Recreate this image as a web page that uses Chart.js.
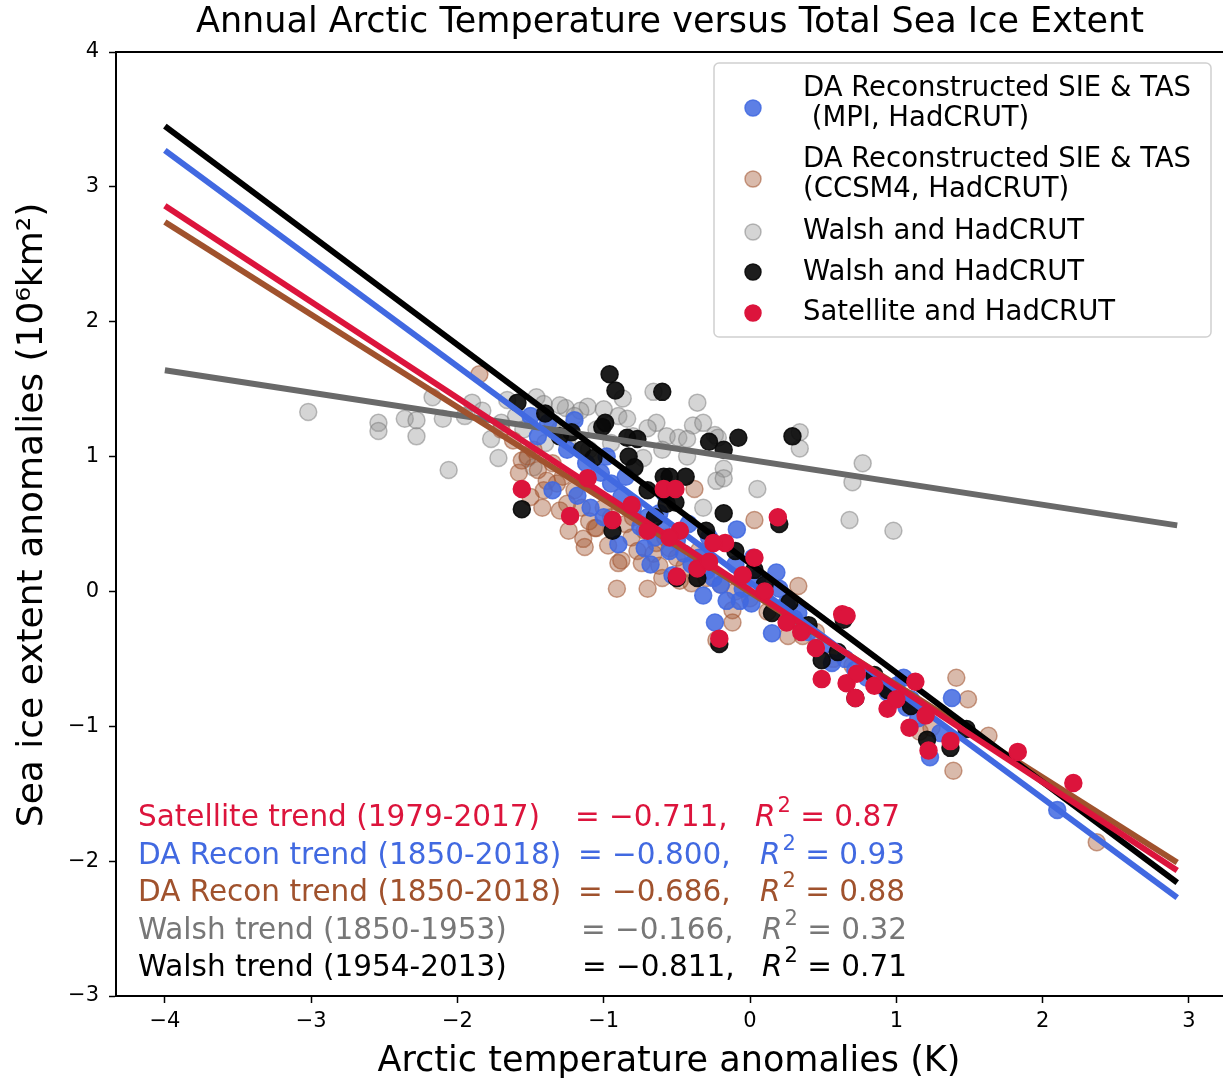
<!DOCTYPE html>
<html>
<head>
<meta charset="utf-8">
<title>Annual Arctic Temperature versus Total Sea Ice Extent</title>
<script src="https://cdn.jsdelivr.net/npm/chart.js@4.4.0/dist/chart.umd.min.js"></script>
<style>
  html, body { margin: 0; padding: 0; background: #fff; }
  #wrap { width: 1223px; height: 1082px; }
</style>
</head>
<body>
<div id="wrap"><canvas id="iceChart" width="1223" height="1082"></canvas></div>
<script>
// ---- data: [temperature anomaly (K), SIE anomaly (10^6 km^2)] ----
const mpiPoints = [
  [-1.20,1.27],[-1.18,0.71],[-1.35,0.75],[-1.09,0.62],[-1.25,1.05],[-1.12,0.95],[-1.02,0.88],[-0.95,0.80],
  [-0.88,0.70],[-0.80,0.62],[-0.75,0.48],[-0.70,0.55],[-0.65,0.40],[-0.60,0.45],[-0.55,0.30],[-0.50,0.38],
  [-0.45,0.28],[-0.40,0.20],[-0.35,0.25],[-0.30,0.15],[-0.25,0.10],[-0.20,0.05],[-0.09,0.46],[0.18,0.14],
  [-0.32,-0.03],[-0.24,-0.23],[0.15,-0.31],[-0.16,-0.07],[-0.07,-0.07],[0.01,-0.09],[0.25,-0.09],[0.33,-0.16],
  [0.80,-0.64],[0.94,-0.75],[0.56,-0.53],[1.38,-0.79],[1.07,-0.86],[1.15,-0.94],[1.23,-1.23],[2.10,-1.62],
  [1.05,-0.64],[-0.10,0.20],[0.05,0.10],[0.10,0.00],[-0.05,0.02],[0.40,-0.30],[0.50,-0.40],[0.65,-0.50],
  [0.72,-0.58],[1.00,-0.70],[1.10,-0.80],[1.20,-0.90],[1.30,-1.05],[-1.45,1.15],[-1.38,1.25],[-1.50,1.30],
  [-0.98,1.00],[-0.85,0.85],[-0.62,0.58],[-0.58,0.72],[-0.42,0.50],[-0.28,0.40],[0.02,0.25],[0.20,0.02],
  [0.30,-0.20],[-1.00,0.55],[-0.90,0.35],[-0.72,0.32],[-0.53,0.12],[-0.68,0.20]
];
const ccsmPoints = [
  [-1.85,1.61],[-1.50,0.70],[-1.30,0.60],[-1.48,1.05],[-1.06,0.47],[-1.14,0.39],[-1.13,0.33],[-1.39,0.82],
  [-1.32,0.80],[-1.41,0.75],[-1.56,0.97],[-1.62,1.12],[-1.25,0.65],[-1.05,0.47],[-0.97,0.34],[-0.90,0.21],
  [-0.88,0.23],[-0.91,0.02],[-0.70,0.02],[-0.74,0.21],[-0.62,0.19],[-0.38,0.76],[0.03,0.53],[0.33,0.04],
  [-0.81,0.40],[-0.77,0.30],[-0.40,0.06],[-0.55,0.32],[-0.64,0.36],[-0.12,-0.14],[-0.12,-0.23],[-0.23,-0.36],
  [0.26,-0.33],[0.36,-0.33],[0.57,-0.50],[1.41,-0.64],[1.49,-0.80],[1.63,-1.07],[1.39,-1.33],[1.24,-1.01],
  [1.16,-1.04],[2.37,-1.86],[-1.70,1.20],[-1.58,0.88],[-1.45,0.90],[-1.35,0.95],[-1.28,0.85],[-1.20,0.75],
  [-1.15,0.62],[-1.00,0.62],[-0.95,0.55],[-0.85,0.50],[-0.80,0.55],[-0.72,0.45],[-0.66,0.28],[-0.58,0.40],
  [-0.50,0.25],[-0.45,0.18],[-0.35,0.30],[-0.30,0.10],[-0.20,0.05],[-0.10,0.00],[0.00,-0.05],[0.12,-0.15],
  [0.45,-0.30],[0.70,-0.55],[0.90,-0.70],[1.05,-0.78],[-1.52,1.00],[-1.42,0.62],[-1.24,0.45],[-1.10,0.52],
  [-0.60,0.10],[-0.48,0.08]
];
const walshEarlyPoints = [
  [-3.02,1.33],[-2.54,1.25],[-2.54,1.19],[-2.36,1.28],[-2.28,1.27],[-2.28,1.15],[-2.10,1.28],[-2.06,0.90],
  [-2.17,1.44],[-1.90,1.40],[-1.83,1.34],[-1.77,1.13],[-1.72,0.99],[-1.66,1.42],[-1.46,1.44],[-1.41,1.39],
  [-1.26,1.36],[-1.11,1.37],[-1.16,1.34],[-1.52,0.99],[-1.48,0.92],[-0.87,1.43],[-0.66,1.48],[-0.36,1.40],
  [-0.90,1.30],[-0.84,1.28],[-0.64,1.25],[-0.70,1.21],[-0.39,1.23],[-0.32,1.25],[-0.57,1.15],[-0.49,1.14],
  [-0.43,1.13],[-0.24,1.16],[-0.22,1.14],[-0.73,0.99],[-0.60,1.05],[-0.43,1.00],[-0.18,0.91],[-0.23,0.82],
  [-0.18,0.84],[0.05,0.76],[-0.32,0.62],[0.34,1.18],[0.34,1.06],[0.77,0.95],[0.70,0.81],[0.68,0.53],
  [0.98,0.45],[-1.60,1.30],[-1.35,1.25],[-1.30,1.20],[-1.20,1.30],[-1.05,1.20],[-1.00,1.35],[-0.95,1.10],
  [-1.40,1.10],[-1.25,1.12],[-1.55,1.20],[-1.70,1.25],[-1.95,1.30],[-1.30,1.38],[-0.80,1.15],[-1.10,1.05]
];
const walshLatePoints = [
  [-0.96,1.61],[-0.92,1.49],[-0.60,1.48],[-0.99,1.25],[-1.01,1.22],[-0.84,1.14],[-0.77,1.13],[-0.28,1.11],
  [-0.08,1.14],[-0.18,1.05],[0.29,1.15],[-0.83,1.00],[-0.79,0.92],[-1.07,0.99],[-0.59,0.85],[-0.55,0.85],
  [-0.44,0.85],[-0.57,0.65],[-0.51,0.66],[-0.18,0.58],[0.20,0.50],[-0.94,0.45],[-0.50,0.10],[-0.36,0.10],
  [0.03,0.16],[-1.56,0.61],[-1.59,1.40],[-1.40,1.32],[-1.22,1.18],[0.15,-0.16],[-0.21,-0.39],[0.64,-0.21],
  [0.49,-0.51],[0.72,-0.79],[0.94,-0.73],[1.21,-1.10],[1.37,-1.16],[1.48,-1.02],[0.27,-0.08],[-1.15,1.05],
  [-1.30,1.15],[-0.70,0.75],[-0.30,0.45],[-0.10,0.30],[0.10,0.05],[0.40,-0.25],[0.60,-0.45],[0.85,-0.62],
  [1.10,-0.85],[-0.65,0.55]
];
const satellitePoints = [
  [-1.56,0.76],[-1.23,0.56],[-0.94,0.53],[-0.59,0.76],[-0.51,0.76],[-0.50,0.11],[-0.36,0.17],[-0.21,-0.35],
  [-0.17,0.36],[0.03,0.25],[0.19,0.55],[0.63,-0.17],[0.66,-0.18],[0.25,-0.23],[0.49,-0.65],[0.66,-0.68],
  [0.72,-0.79],[0.94,-0.87],[0.73,-0.61],[1.13,-0.67],[1.09,-1.01],[1.22,-1.18],[1.37,-1.11],[1.83,-1.19],
  [2.21,-1.42],[-1.11,0.84],[-0.81,0.64],[-0.48,0.45],[-0.25,0.36],[-0.05,0.12],[0.10,0.00],[0.35,-0.30],
  [0.45,-0.42],[0.85,-0.70],[1.00,-0.80],[1.20,-0.92],[-0.70,0.45],[-0.28,0.22],[-0.55,0.40]
];

// trend line end points
const trendX = [-4, 2.92];
const satTrendY = [2.86, -2.07];
const mpiTrendY = [3.27, -2.27];
const ccsmTrendY = [2.74, -2.01];
const walshEarlyTrendY = [1.64, 0.49];
const walshLateTrendY = [3.45, -2.16];

const xTicks = [-4, -3, -2, -1, 0, 1, 2, 3];
const yTicks = [-3, -2, -1, 0, 1, 2, 3, 4];

const chartTitle = 'Annual Arctic Temperature versus Total Sea Ice Extent';
const xLabel = 'Arctic temperature anomalies (K)';
const yLabel = 'Sea ice extent anomalies (10\u2076km\u00b2)';

const legendLabels = [
  ['DA Reconstructed SIE & TAS', ' (MPI, HadCRUT)'],
  ['DA Reconstructed SIE & TAS', '(CCSM4, HadCRUT)'],
  ['Walsh and HadCRUT'],
  ['Walsh and HadCRUT'],
  ['Satellite and HadCRUT']
];

const trendNames = ['Satellite trend (1979-2017)', 'DA Recon trend (1850-2018)', 'DA Recon trend (1850-2018)',
                    'Walsh trend (1850-1953)', 'Walsh trend (1954-2013)'];
const trendSlopes = ['\u22120.711', '\u22120.800', '\u22120.686', '\u22120.166', '\u22120.811'];
const trendR2 = ['0.87', '0.93', '0.88', '0.32', '0.71'];

// ---- styling ----
const FONT = '"DejaVu Sans", "Liberation Sans", sans-serif';
const C = {
  mpi: 'rgba(65,105,225,0.85)',
  ccsm: 'rgba(160,82,45,0.4)', ccsmEdge: 'rgba(160,82,45,0.55)',
  early: 'rgba(150,150,150,0.4)', earlyEdge: 'rgba(110,110,110,0.45)',
  late: 'rgba(10,10,10,0.92)',
  sat: '#dc143c',
  royal: '#4169e1', sienna: '#a0522d', dim: '#696969', black: '#000000'
};
const trendColors = [C.sat, C.royal, C.sienna, '#777777', C.black];

function toXY(list) { return list.map(p => ({ x: p[0], y: p[1] })); }
function lineXY(ys) { return trendX.map((x, i) => ({ x: x, y: ys[i] })); }
function minus(v) { return String(v).replace('-', '\u2212'); }

function scatterSet(label, pts, fill, edge, order) {
  return { label, data: toXY(pts), backgroundColor: fill, borderColor: edge, borderWidth: 1.5,
           pointRadius: 8.5, pointHoverRadius: 8.5, showLine: false, order };
}
function trendSet(label, ys, color, order) {
  return { label, data: lineXY(ys), borderColor: color, backgroundColor: color, borderWidth: 6,
           pointRadius: 0, showLine: true, borderCapStyle: 'butt', order };
}

// draws title, axis titles, top spine, legend box and the trend text block
const overlay = {
  id: 'overlay',
  afterDraw(chart) {
    const ctx = chart.ctx, area = chart.chartArea;
    ctx.save();
    ctx.strokeStyle = '#000'; ctx.lineWidth = 2;
    ctx.beginPath(); ctx.moveTo(area.left - 1, area.top); ctx.lineTo(area.right, area.top); ctx.stroke();

    ctx.fillStyle = '#000';
    ctx.textAlign = 'center'; ctx.textBaseline = 'middle';
    ctx.font = '35px ' + FONT;
    ctx.fillText(chartTitle, 670, 23);
    ctx.fillText(xLabel, 669, 1062);
    ctx.save();
    ctx.translate(33, 515);
    ctx.rotate(-Math.PI / 2);
    ctx.font = '36px ' + FONT;
    ctx.fillText(yLabel, 0, 0);
    ctx.restore();

    // legend
    const lx = 714, ly = 63, lw = 497, lh = 274;
    ctx.beginPath();
    ctx.roundRect(lx, ly, lw, lh, 5);
    ctx.fillStyle = 'rgba(255,255,255,0.85)'; ctx.fill();
    ctx.strokeStyle = '#d0d0d0'; ctx.lineWidth = 1.5; ctx.stroke();
    const markers = [[C.mpi, C.mpi], [C.ccsm, C.ccsmEdge], [C.early, C.earlyEdge], [C.late, C.late], [C.sat, C.sat]];
    const markerY = [108, 179, 232, 272, 313];
    const textY = [[89, 119], [160, 190], [232], [273], [313]];
    ctx.textAlign = 'left';
    ctx.font = '27.5px ' + FONT;
    legendLabels.forEach((lines, i) => {
      ctx.beginPath();
      ctx.arc(753, markerY[i], 8, 0, Math.PI * 2);
      ctx.fillStyle = markers[i][0]; ctx.fill();
      ctx.strokeStyle = markers[i][1]; ctx.lineWidth = 1.5; ctx.stroke();
      ctx.fillStyle = '#000';
      lines.forEach((t, j) => ctx.fillText(t, 803, textY[i][j]));
    });

    // trend annotations
    const rowY = [818, 856, 893, 931, 968];
    const eqX = [575, 578, 578, 581, 582];
    const rX = [755, 760, 760, 762, 762];
    trendNames.forEach((name, i) => {
      ctx.fillStyle = trendColors[i];
      ctx.font = '29.5px ' + FONT;
      ctx.fillText(name, 138, rowY[i]);
      ctx.fillText('= ' + trendSlopes[i] + ',', eqX[i], rowY[i]);
      ctx.font = 'italic 29.5px ' + FONT;
      ctx.fillText('R', rX[i], rowY[i]);
      const wr = ctx.measureText('R').width;
      ctx.font = '21px ' + FONT;
      ctx.fillText('2', rX[i] + wr + 2, rowY[i] - 11);
      const w2 = ctx.measureText('2').width;
      ctx.font = '29.5px ' + FONT;
      ctx.fillText(' = ' + trendR2[i], rX[i] + wr + 2 + w2, rowY[i]);
    });
    ctx.restore();
  }
};

const ctx = document.getElementById('iceChart').getContext('2d');
new Chart(ctx, {
  type: 'scatter',
  data: {
    datasets: [
      scatterSet('Satellite and HadCRUT', satellitePoints, C.sat, C.sat, 0),
      trendSet('Satellite trend', satTrendY, C.sat, 1),
      trendSet('Walsh late trend', walshLateTrendY, C.black, 2),
      trendSet('DA Recon MPI trend', mpiTrendY, C.royal, 3),
      trendSet('DA Recon CCSM4 trend', ccsmTrendY, C.sienna, 4),
      trendSet('Walsh early trend', walshEarlyTrendY, C.dim, 5),
      scatterSet('Walsh and HadCRUT (1954-2013)', walshLatePoints, C.late, C.late, 6),
      scatterSet('DA Reconstructed (MPI)', mpiPoints, C.mpi, C.mpi, 7),
      scatterSet('DA Reconstructed (CCSM4)', ccsmPoints, C.ccsm, C.ccsmEdge, 8),
      scatterSet('Walsh and HadCRUT (1850-1953)', walshEarlyPoints, C.early, C.earlyEdge, 9)
    ]
  },
  options: {
    responsive: false,
    animation: false,
    devicePixelRatio: 1,
    layout: { autoPadding: false, padding: { top: 52, right: 0, bottom: 0, left: 0 } },
    plugins: { legend: { display: false }, tooltip: { enabled: false }, title: { display: false } },
    scales: {
      x: {
        type: 'linear', min: -4.334, max: 3.233,
        afterFit: s => { s.height = 86; s.paddingLeft = 0; s.paddingRight = 0; },
        afterBuildTicks: s => { s.ticks = xTicks.map(v => ({ value: v })); },
        ticks: { callback: minus, color: '#000', font: { family: FONT, size: 21 }, padding: 6, maxRotation: 0 },
        grid: { drawOnChartArea: false, drawTicks: true, tickLength: 7, tickColor: '#000', tickWidth: 1.5 },
        border: { display: true, color: '#000', width: 2 },
        title: { display: false }
      },
      y: {
        type: 'linear', min: -3, max: 4,
        afterFit: s => { s.width = 116; s.paddingTop = 0; s.paddingBottom = 0; },
        afterBuildTicks: s => { s.ticks = yTicks.map(v => ({ value: v })); },
        ticks: { callback: minus, color: '#000', font: { family: FONT, size: 21 }, padding: 10 },
        grid: { drawOnChartArea: false, drawTicks: true, tickLength: 7, tickColor: '#000', tickWidth: 1.5 },
        border: { display: true, color: '#000', width: 2 },
        title: { display: false }
      }
    }
  },
  plugins: [overlay]
});
</script>
</body>
</html>
